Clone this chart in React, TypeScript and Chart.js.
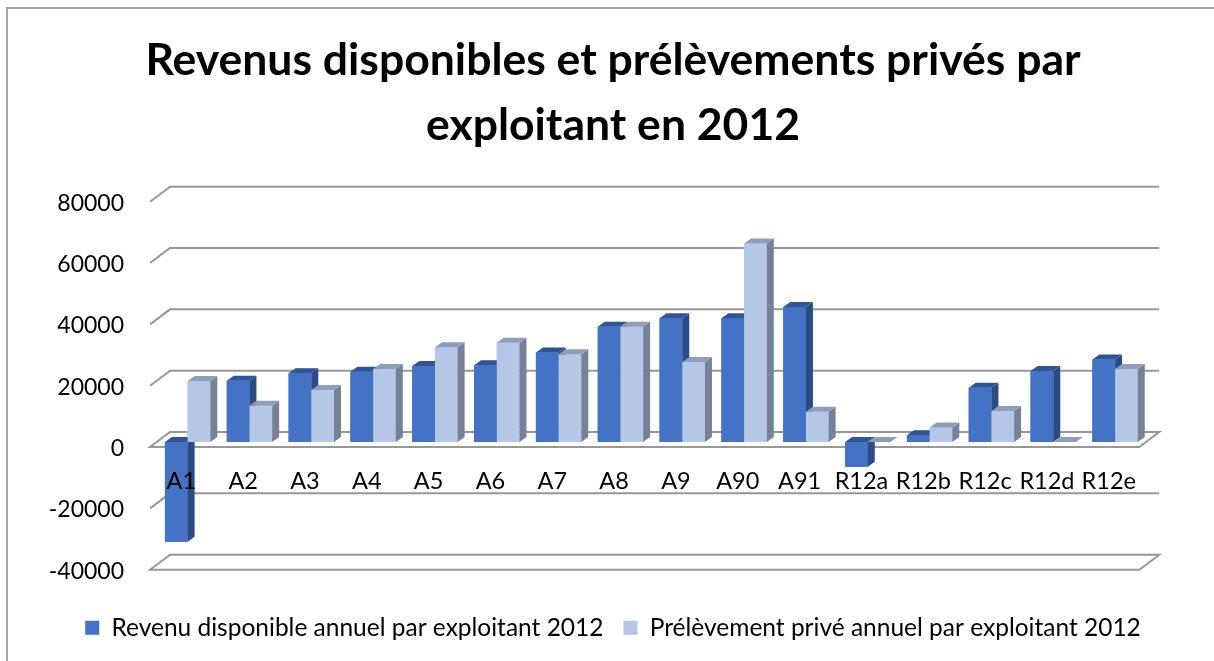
import React, { useEffect, useRef } from "react";
import { Chart, registerables } from "chart.js";

Chart.register(...registerables);

const TITLE_LINES = ["Revenus disponibles et prélèvements privés par", "exploitant en 2012"];
const CATEGORIES = ["A1", "A2", "A3", "A4", "A5", "A6", "A7", "A8", "A9", "A90", "A91", "R12a", "R12b", "R12c", "R12d", "R12e"];
const SERIES_NAMES = ["Revenu disponible annuel par exploitant 2012", "Prélèvement privé annuel par exploitant 2012"];
const REVENU = [-32500, 20000, 22400, 22900, 24800, 25000, 29200, 37600, 40400, 40400, 44000, -8100, 2200, 17700, 23200, 26900];
const PRELEVEMENT = [19900, 11800, 17000, 23800, 30900, 32400, 28600, 37600, 26100, 64700, 9900, 0, 4700, 10100, 0, 23800];
const Y_TICKS = [80000, 60000, 40000, 20000, 0, -20000, -40000];
const Y_MIN = -40000;
const Y_MAX = 80000;

const FONT = "Lato, 'Open Sans', sans-serif";
const FRONT = ["#4472C4", "#B4C7E7"];
const TOPC = ["#2F5597", "#8E9EBA"];
const SIDE = ["#2A4B85", "#768198"];

// perspective offsets
const DX = 7, DY = -5; // bar depth
const BACK_DX = 13.3, BACK_DY = -10;
const FRONT_DX = -6.7, FRONT_DY = 5;

const frame3d = {
  id: "frame3d",
  beforeDraw(chart: any) {
    const { ctx } = chart;
    ctx.save();
    ctx.fillStyle = "#ffffff";
    ctx.fillRect(0, 0, chart.width, chart.height);
    ctx.strokeStyle = "#a6a6a6";
    ctx.lineWidth = 2;
    ctx.beginPath();
    ctx.moveTo(7, chart.height + 2);
    ctx.lineTo(7, 8);
    ctx.lineTo(chart.width + 2, 8);
    ctx.stroke();
    ctx.restore();
  },
  beforeDatasetsDraw(chart: any) {
    const { ctx, chartArea: a } = chart;
    const y = chart.scales.y;
    ctx.save();
    ctx.strokeStyle = "#979797";
    ctx.lineWidth = 2;
    ctx.lineJoin = "miter";
    for (const v of Y_TICKS) {
      const py = y.getPixelForValue(v);
      ctx.beginPath();
      ctx.moveTo(a.left + FRONT_DX, py + FRONT_DY);
      ctx.lineTo(a.left + BACK_DX, py + BACK_DY);
      ctx.lineTo(a.right + BACK_DX, py + BACK_DY);
      if (v === 0 || v === Y_MIN) {
        ctx.lineTo(a.right + FRONT_DX, py + FRONT_DY);
        ctx.closePath();
      }
      ctx.stroke();
    }
    ctx.restore();
  },
  afterDatasetsDraw(chart: any) {
    const { ctx } = chart;
    const metas = [chart.getDatasetMeta(0), chart.getDatasetMeta(1)];
    ctx.save();
    for (let i = 0; i < CATEGORIES.length; i++) {
      for (let d = 0; d < 2; d++) {
        const el = metas[d].data[i];
        if (!el) continue;
        const p = el.getProps(["x", "y", "base", "width"], true);
        const l = p.x - p.width / 2;
        const r = p.x + p.width / 2;
        const t = Math.min(p.y, p.base);
        const b = Math.max(p.y, p.base);
        ctx.fillStyle = FRONT[d];
        ctx.fillRect(l, t, r - l, b - t);
        ctx.fillStyle = SIDE[d];
        ctx.beginPath();
        ctx.moveTo(r, t);
        ctx.lineTo(r + DX, t + DY);
        ctx.lineTo(r + DX, b + DY);
        ctx.lineTo(r, b);
        ctx.closePath();
        ctx.fill();
        ctx.fillStyle = TOPC[d];
        ctx.beginPath();
        ctx.moveTo(l, t);
        ctx.lineTo(l + DX, t + DY);
        ctx.lineTo(r + DX, t + DY);
        ctx.lineTo(r, t);
        ctx.closePath();
        ctx.fill();
      }
    }
    // axis labels
    const ys = chart.scales.y;
    const xs = chart.scales.x;
    ctx.fillStyle = "#000000";
    ctx.font = `23px ${FONT}`;
    ctx.textAlign = "right";
    ctx.textBaseline = "middle";
    for (const v of Y_TICKS) {
      ctx.fillText(String(v), 124, ys.getPixelForValue(v) + 6.5);
    }
    ctx.font = `23.5px ${FONT}`;
    ctx.textAlign = "center";
    const y0 = ys.getPixelForValue(0);
    CATEGORIES.forEach((c, i) => {
      ctx.fillText(c, xs.getPixelForValue(i) - 6.3, y0 + 39);
    });
    ctx.restore();
  },
};

export default function App() {
  const ref = useRef<HTMLCanvasElement | null>(null);
  useEffect(() => {
    if (!ref.current) return;
    const chart = new Chart(ref.current, {
      type: "bar",
      data: {
        labels: CATEGORIES,
        datasets: [
          { label: SERIES_NAMES[0], data: REVENU, backgroundColor: FRONT[0], categoryPercentage: 0.734, barPercentage: 1.0 },
          { label: SERIES_NAMES[1], data: PRELEVEMENT, backgroundColor: FRONT[1], categoryPercentage: 0.734, barPercentage: 1.0 },
        ],
      },
      options: {
        animation: false,
        responsive: true,
        maintainAspectRatio: false,
        events: [],
        layout: { padding: { left: 12, right: 0, top: 0, bottom: 11 } },
        scales: {
          x: {
            display: true,
            grid: { display: false },
            border: { display: false },
            ticks: { display: false },
            afterFit: (s: any) => { s.height = 30.8; },
          },
          y: {
            min: Y_MIN,
            max: Y_MAX,
            display: true,
            grid: { display: false },
            border: { display: false },
            ticks: { display: false, stepSize: 20000 },
            afterFit: (s: any) => { s.width = 144.7; },
          },
          yR: {
            position: "right",
            display: true,
            grid: { display: false },
            border: { display: false },
            ticks: { display: false },
            afterFit: (s: any) => { s.width = 68; },
          },
        },
        plugins: {
          tooltip: { enabled: false },
          title: {
            display: true,
            text: TITLE_LINES,
            color: "#000000",
            font: { family: FONT, size: 44.5, weight: "bold", lineHeight: 65 / 44.5 },
            padding: { top: 28.5, bottom: 38.2 },
          },
          legend: {
            display: true,
            position: "bottom",
            labels: {
              color: "#000000",
              boxWidth: 14,
              boxHeight: 14,
              padding: 20,
              font: { family: FONT, size: 24.5 },
            },
          },
        },
      },
      plugins: [frame3d],
    });
    return () => chart.destroy();
  }, []);
  return (
    <div style={{ position: "fixed", left: 0, top: 0, width: 1214, height: 661, background: "#fff" }}>
      <canvas ref={ref} />
    </div>
  );
}
